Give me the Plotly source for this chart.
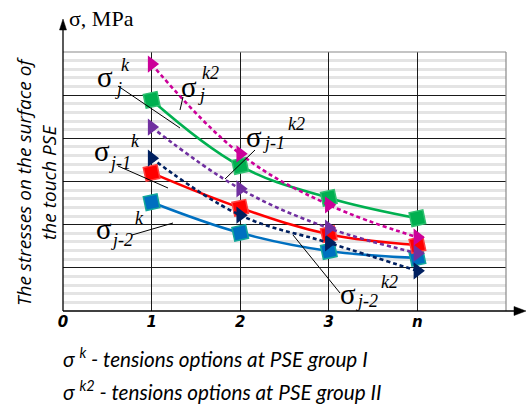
import plotly.graph_objects as go

# Positions along the horizontal axis (last one is "n")
x_pos = [1, 2, 3, 4]
x_tick_pos = [0, 1, 2, 3, 4]
x_tick_labels = ["0", "1", "2", "3", "n"]

# Stress values, group I (solid curves, square markers)
sigma_j_k = [4.89, 3.36, 2.62, 2.15]
sigma_j1_k = [3.20, 2.39, 1.78, 1.53]
sigma_j2_k = [2.52, 1.81, 1.39, 1.23]

# Stress values, group II (dashed curves, triangle markers)
sigma_j_k2 = [5.72, 3.64, 2.46, 1.71]
sigma_j1_k2 = [4.26, 2.83, 1.92, 1.34]
sigma_j2_k2 = [3.54, 2.22, 1.58, 0.93]

# Plot-area geometry in pixels (used to place labels and leader lines)
W, H = 526, 405
L, R, T, B = 63, 20, 52, 94
X_MAX, Y_MAX = 5, 6
PW, PH = W - L - R, H - T - B


def dpos(px, py):
    """Pixel position -> data coordinates."""
    return (px - L) / PW * X_MAX, (H - B - py) / PH * Y_MAX


def ppos(px, py):
    """Pixel position -> paper coordinates."""
    return (px - L) / PW, (H - B - py) / PH


series = [
    (sigma_j2_k, "#0070c0", "square", "solid", "#12a89a"),
    (sigma_j1_k, "#ff0000", "square", "solid", "#ff4040"),
    (sigma_j_k, "#00b050", "square", "solid", "#2fc070"),
    (sigma_j2_k2, "#002060", "triangle-right", "dot", "#002060"),
    (sigma_j1_k2, "#7030a0", "triangle-right", "dot", "#7030a0"),
    (sigma_j_k2, "#cc0099", "triangle-right", "dot", "#cc0099"),
]

fig = go.Figure()
for vals, color, symbol, dash, edge in series:
    is_sq = symbol == "square"
    fig.add_trace(go.Scatter(
        x=x_pos, y=vals, mode="lines+markers",
        line=dict(color=color, width=2.6, shape="spline", smoothing=1.1,
                  dash="solid" if dash == "solid" else "4px,3px"),
        marker=dict(symbol=symbol, color=color, size=14 if is_sq else 15,
                    angle=-12 if is_sq else 0,
                    line=dict(color=edge, width=1.5 if is_sq else 0)),
        showlegend=False, hoverinfo="skip", cliponaxis=False,
    ))

shapes = []
# frame (top and right) in grey
shapes.append(dict(type="line", xref="paper", yref="paper", x0=0, x1=1, y0=1, y1=1,
                   line=dict(color="#8a8a8a", width=1.2)))
shapes.append(dict(type="line", xref="paper", yref="paper", x0=1, x1=1, y0=0, y1=1,
                   line=dict(color="#8a8a8a", width=1.2)))
# axis lines with arrowheads
ax_end = ppos(518, 311)
shapes.append(dict(type="line", xref="paper", yref="paper", x0=0, x1=ax_end[0], y0=0, y1=0,
                   line=dict(color="black", width=1.3)))
ay_end = ppos(63, 26)
shapes.append(dict(type="line", xref="paper", yref="paper", x0=0, x1=0, y0=0, y1=ay_end[1],
                   line=dict(color="black", width=1.3)))
a1, a2, a3 = ppos(514, 306.5), ppos(526, 311), ppos(514, 315.5)
shapes.append(dict(type="path", xref="paper", yref="paper",
                   path=f"M {a1[0]},{a1[1]} L {a2[0]},{a2[1]} L {a3[0]},{a3[1]} Z",
                   fillcolor="black", line=dict(color="black", width=0.5)))
b1, b2, b3 = ppos(59.5, 30), ppos(63, 19), ppos(66.5, 30)
shapes.append(dict(type="path", xref="paper", yref="paper",
                   path=f"M {b1[0]},{b1[1]} L {b2[0]},{b2[1]} L {b3[0]},{b3[1]} Z",
                   fillcolor="black", line=dict(color="black", width=0.5)))

# leader lines from the curve labels
leaders = [
    ((118, 86), (180, 128)),
    ((183, 97), (180, 110)),
    ((255, 150), (225, 179)),
    ((118, 166), (168, 188)),
    ((132, 235), (173, 223)),
    ((340, 293), (293, 235)),
]
for (p0, p1) in leaders:
    x0, y0 = dpos(*p0)
    x1, y1 = dpos(*p1)
    shapes.append(dict(type="line", xref="x", yref="y", x0=x0, y0=y0, x1=x1, y1=y1,
                       line=dict(color="black", width=1)))

annotations = []
serif = "Liberation Serif"


def add_text(px, py, text, size, family=serif, style="normal", weight="normal",
             xanchor="center", angle=0):
    x, y = ppos(px, py)
    annotations.append(dict(x=x, y=y, xref="paper", yref="paper", text=text,
                            showarrow=False, xanchor=xanchor, yanchor="middle",
                            textangle=angle,
                            font=dict(family=family, size=size, color="black",
                                      style=style, weight=weight)))


# curve labels: sigma, subscript, superscript
curve_labels = [
    ((105, 77), (118, 89), (125, 65), "j", "k"),
    ((189, 87), (201, 95), (210, 73), "j", "k2"),
    ((254, 137), (274, 143), (296, 124), "j-1", "k2"),
    ((102, 151), (120, 163), (135, 141), "j-1", "k"),
    ((104, 229), (122, 240), (139, 218), "j-2", "k"),
    ((348, 294), (367, 301), (389, 282), "j-2", "k2"),
]
for s_pos, sub_pos, sup_pos, sub, sup in curve_labels:
    add_text(*s_pos, "σ", 29)
    add_text(*sub_pos, sub, 18, style="italic")
    add_text(*sup_pos, sup, 18, style="italic")

# axis caption
add_text(101, 18, "σ, MPa", 22)

# y-axis title
add_text(36, 182, "The stresses on the surface of<br>the touch PSE", 19,
         family="Open Sans", style="italic", angle=-90)

# notes below the chart
add_text(61, 357, "σ <sup>k</sup> - tensions options at PSE group I", 20.7,
         family="Lato", style="italic", xanchor="left")
add_text(61, 390, "σ <sup>k2</sup> - tensions options at PSE group II", 20.7,
         family="Lato", style="italic", xanchor="left")

fig.update_layout(
    width=W, height=H,
    margin=dict(l=L, r=R, t=T, b=B, pad=0),
    paper_bgcolor="white", plot_bgcolor="white",
    showlegend=False,
    shapes=shapes, annotations=annotations,
    xaxis=dict(range=[0, X_MAX], tickmode="array", tickvals=x_tick_pos,
               ticktext=x_tick_labels, showgrid=True, gridcolor="#1a1a1a",
               gridwidth=1, zeroline=False, showline=False, ticks="",
               tickfont=dict(family="DejaVu Sans", size=15, color="black",
                             weight="bold", style="italic"),
               fixedrange=True),
    yaxis=dict(range=[0, Y_MAX], tick0=0, dtick=1, showticklabels=False,
               showgrid=True, gridcolor="#1a1a1a", gridwidth=1, zeroline=False,
               showline=False, ticks="",
               minor=dict(tick0=0, dtick=0.2, showgrid=True, gridcolor="#e4e4e4",
                          gridwidth=2.5),
               fixedrange=True),
)

fig.write_html("out.html")
